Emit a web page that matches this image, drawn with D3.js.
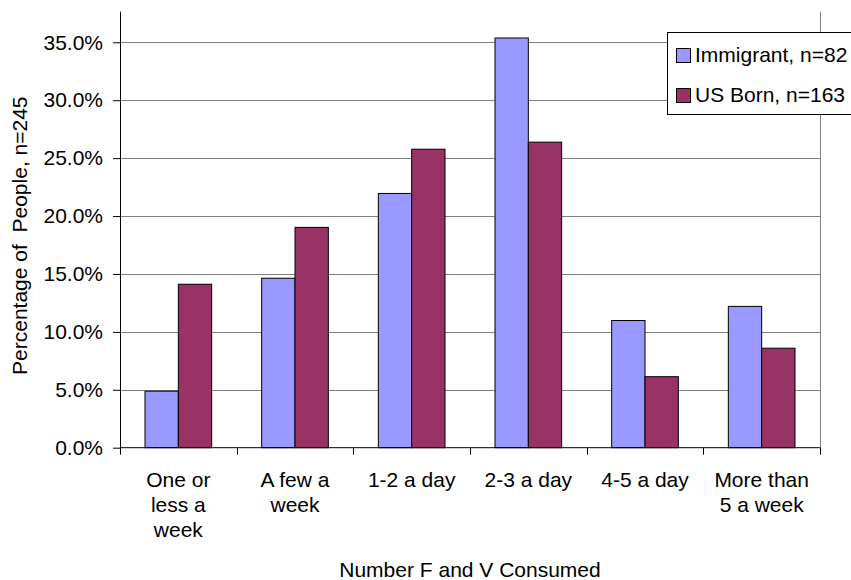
<!DOCTYPE html>
<html>
<head>
<meta charset="utf-8">
<script src="https://cdn.jsdelivr.net/npm/d3@7"></script>
<style>
  html, body { margin: 0; padding: 0; background: #fff; }
  svg { display: block; font-family: "Liberation Sans", Arial, sans-serif; }
</style>
</head>
<body>
<svg id="chart" width="851" height="580"></svg>
<script>
// Fruit & vegetable servings, share of respondents by group
const categories = ["One or\nless a\nweek", "A few a\nweek", "1-2 a day", "2-3 a day", "4-5 a day", "More than\n5 a week"];
const seriesNames = ["Immigrant, n=82", "US Born, n=163"];
const immigrant = [0.0488, 0.1463, 0.2195, 0.3537, 0.1098, 0.1220];
const usBorn = [0.1411, 0.1902, 0.2577, 0.2638, 0.0613, 0.0859];
const yTicks = [0, 0.05, 0.10, 0.15, 0.20, 0.25, 0.30, 0.35];
const colors = ["#9999FF", "#993366"];

(function () {
  const svg = d3.select("#chart");
  const plotL = 120, plotR = 820, plotT = 11.7, plotB = 447.7;
  const fontSize = 21;

  const x = d3.scaleBand().domain(d3.range(categories.length)).range([plotL, plotR]).paddingInner(0).paddingOuter(0);
  const xInner = d3.scaleBand().domain([0, 1]).range([x.bandwidth() * 0.2143, x.bandwidth() * 0.7857]);
  const y = d3.scaleLinear().domain([0, 0.35]).range([plotB, 42.3]);

  // horizontal gridlines
  svg.append("g").selectAll("line").data(yTicks.filter(d => d > 0)).join("line")
    .attr("x1", plotL).attr("x2", plotR)
    .attr("y1", d => Math.round(y(d)) + 0.5).attr("y2", d => Math.round(y(d)) + 0.5)
    .attr("stroke", "#808080").attr("stroke-width", 1);

  // right edge of plot area
  svg.append("line").attr("x1", plotR + 0.5).attr("x2", plotR + 0.5)
    .attr("y1", plotT).attr("y2", plotB)
    .attr("stroke", "#808080");

  // bars
  const rows = categories.map((c, i) => [immigrant[i], usBorn[i]]);
  svg.append("g").selectAll("g").data(rows).join("g")
    .attr("transform", (d, i) => `translate(${x(i)},0)`)
    .selectAll("rect").data(d => d.map((v, s) => ({ v, s }))).join("rect")
    .attr("x", d => xInner(d.s))
    .attr("y", d => y(d.v))
    .attr("width", xInner.bandwidth())
    .attr("height", d => plotB - y(d.v))
    .attr("fill", d => colors[d.s])
    .attr("stroke", "#000").attr("stroke-width", 1);

  // y axis
  const yAxis = svg.append("g").attr("transform", `translate(${plotL},0)`)
    .call(d3.axisLeft(y).tickValues(yTicks).tickFormat(d3.format(".1%")).tickSize(7).tickPadding(10));
  yAxis.select(".domain").remove();
  yAxis.selectAll(".tick line").attr("stroke", "#000");
  yAxis.selectAll(".tick text").attr("font-size", fontSize).attr("font-family", "Liberation Sans, Arial, sans-serif").attr("fill", "#000");
  svg.append("line").attr("x1", plotL + 0.5).attr("x2", plotL + 0.5).attr("y1", plotT).attr("y2", plotB + 0.5).attr("stroke", "#000");

  // x axis line and boundary ticks
  svg.append("line").attr("x1", plotL).attr("x2", plotR + 0.5).attr("y1", plotB).attr("y2", plotB).attr("stroke", "#000");
  const boundaries = d3.range(categories.length + 1).map(i => plotL + i * x.bandwidth());
  svg.append("g").selectAll("line").data(boundaries).join("line")
    .attr("x1", d => Math.round(d) + 0.5).attr("x2", d => Math.round(d) + 0.5)
    .attr("y1", plotB).attr("y2", plotB + 7)
    .attr("stroke", "#000");

  // category labels
  const labels = svg.append("g").selectAll("text").data(categories).join("text")
    .attr("text-anchor", "middle")
    .attr("font-size", fontSize)
    .attr("x", (d, i) => x(i) + x.bandwidth() / 2)
    .attr("y", 487.3);
  labels.selectAll("tspan").data(d => d.split("\n")).join("tspan")
    .attr("x", function () { return this.parentNode.getAttribute("x"); })
    .attr("dy", (d, i) => i === 0 ? 0 : 25)
    .text(d => d);

  // axis titles
  svg.append("text").attr("x", (plotL + plotR) / 2).attr("y", 576.5)
    .attr("text-anchor", "middle").attr("font-size", fontSize)
    .text("Number F and V Consumed");
  svg.append("text").attr("transform", `translate(27,${(plotT + plotB) / 2 + 6}) rotate(-90)`)
    .attr("text-anchor", "middle").attr("font-size", fontSize)
    .style("white-space", "pre")
    .text("Percentage of  People, n=245");

  // legend
  const legend = svg.append("g");
  legend.append("rect").attr("x", 667.5).attr("y", 32.5).attr("width", 200).attr("height", 82)
    .attr("fill", "#fff").attr("stroke", "#000");
  seriesNames.forEach((name, i) => {
    legend.append("rect").attr("x", 676.5).attr("y", 48.5 + i * 40).attr("width", 14).attr("height", 14)
      .attr("fill", colors[i]).attr("stroke", "#000");
    legend.append("text").attr("x", 695).attr("y", 62 + i * 40.3)
      .attr("font-size", fontSize).text(name);
  });
})();
</script>
</body>
</html>
